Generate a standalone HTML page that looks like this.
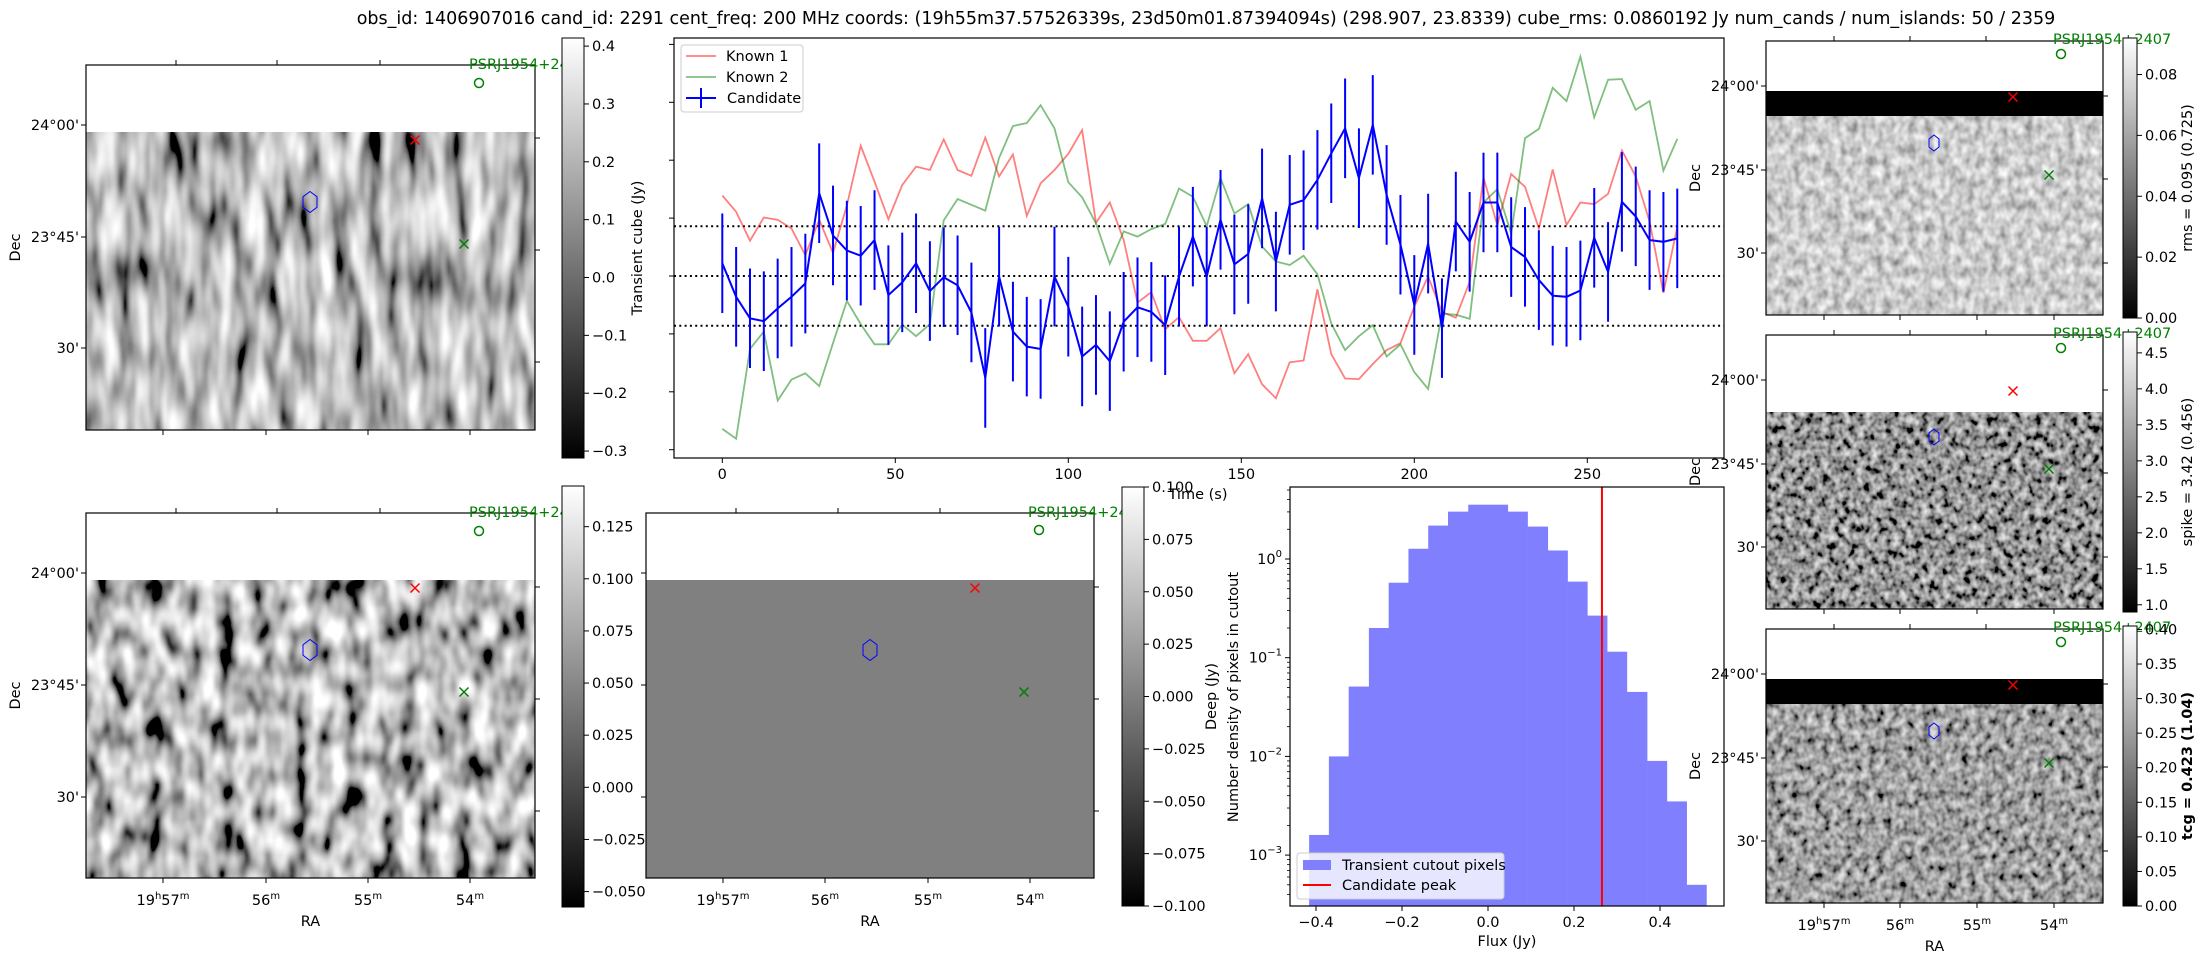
<!DOCTYPE html>
<html><head><meta charset="utf-8"><style>
html,body{margin:0;padding:0;background:#fff;}
svg{display:block;font-family:"DejaVu Sans","Liberation Sans",sans-serif;}
</style></head><body>
<svg id="fig" width="2207" height="959" viewBox="0 0 2207 959" xmlns="http://www.w3.org/2000/svg">
<defs>
 <linearGradient id="gcb" x1="0" y1="1" x2="0" y2="0"><stop offset="0" stop-color="#000"/><stop offset="1" stop-color="#fff"/></linearGradient>
 <filter id="fTL" x="0" y="0" width="1" height="1"><feTurbulence type="fractalNoise" baseFrequency="0.06 0.016" numOctaves="2" seed="3"/><feColorMatrix type="matrix" values="1.8 0 0 0 -0.4  1.8 0 0 0 -0.4  1.8 0 0 0 -0.4  0 0 0 0 1"/></filter>
 <filter id="fBL" x="0" y="0" width="1" height="1"><feTurbulence type="fractalNoise" baseFrequency="0.055 0.028" numOctaves="2" seed="11"/><feColorMatrix type="matrix" values="2.0 0 0 0 -0.5  2.0 0 0 0 -0.5  2.0 0 0 0 -0.5  0 0 0 0 1"/></filter>
 <filter id="fR1" x="0" y="0" width="1" height="1"><feTurbulence type="fractalNoise" baseFrequency="0.12 0.09" numOctaves="2" seed="5"/><feColorMatrix type="matrix" values="1.0 0 0 0 0.1  1.0 0 0 0 0.1  1.0 0 0 0 0.1  0 0 0 0 1"/></filter>
 <filter id="fR2" x="0" y="0" width="1" height="1"><feTurbulence type="fractalNoise" baseFrequency="0.14 0.12" numOctaves="2" seed="7"/><feColorMatrix type="matrix" values="1.4 0 0 0 -0.4  1.4 0 0 0 -0.4  1.4 0 0 0 -0.4  0 0 0 0 1"/></filter>
 <filter id="fR3" x="0" y="0" width="1" height="1"><feTurbulence type="fractalNoise" baseFrequency="0.13 0.11" numOctaves="2" seed="9"/><feColorMatrix type="matrix" values="1.2 0 0 0 -0.25  1.2 0 0 0 -0.25  1.2 0 0 0 -0.25  0 0 0 0 1"/></filter>
</defs>

<text x="1206" y="24" font-size="17.5" text-anchor="middle">obs_id: 1406907016 cand_id: 2291 cent_freq: 200 MHz coords: (19h55m37.57526339s, 23d50m01.87394094s) (298.907, 23.8339) cube_rms: 0.0860192 Jy num_cands / num_islands: 50 / 2359</text>

<g id="panels"></g>
<g id="lc"></g>
<g id="hist"></g>
</svg>
<script>
// ===== Light curve data =====
const times = [0,4,8,12,16,20,24,28,32,36,40,44,48,52,56,60,64,68,72,76,80,84,88,92,96,100,104,108,112,116,120,124,128,132,136,140,144,148,152,156,160,164,168,172,176,180,184,188,192,196,200,204,208,212,216,220,224,228,232,236,240,244,248,252,256,260,264,268,272,276];
const candidate = [0.022,-0.036,-0.073,-0.078,-0.056,-0.036,-0.013,0.143,0.070,0.044,0.035,0.062,-0.033,-0.011,0.022,-0.026,-0.002,-0.016,-0.063,-0.176,-0.001,-0.096,-0.122,-0.126,-0.001,-0.053,-0.139,-0.119,-0.147,-0.079,-0.054,-0.062,-0.085,-0.001,0.068,-0.001,0.097,0.020,0.038,0.134,0.025,0.123,0.131,0.166,0.212,0.255,0.169,0.261,0.140,0.054,-0.050,0.056,-0.090,0.094,0.059,0.127,0.127,0.050,0.033,-0.007,-0.034,-0.036,-0.025,0.066,0.007,0.128,0.103,0.062,0.059,0.065];
const candErr = [0.086,0.086,0.086,0.086,0.086,0.086,0.086,0.086,0.086,0.086,0.086,0.086,0.086,0.086,0.086,0.086,0.086,0.086,0.086,0.086,0.086,0.086,0.086,0.086,0.086,0.086,0.086,0.086,0.086,0.086,0.086,0.086,0.086,0.086,0.086,0.086,0.086,0.086,0.086,0.086,0.086,0.086,0.086,0.086,0.086,0.086,0.086,0.086,0.086,0.086,0.086,0.086,0.086,0.086,0.086,0.086,0.086,0.086,0.086,0.086,0.086,0.086,0.086,0.086,0.086,0.086,0.086,0.086,0.086,0.086];
const known1 = [0.139,0.111,0.061,0.101,0.097,0.082,0.036,0.097,0.040,0.122,0.225,0.163,0.098,0.157,0.189,0.183,0.236,0.183,0.173,0.239,0.172,0.210,0.104,0.160,0.183,0.211,0.252,0.092,0.127,0.062,-0.046,-0.028,-0.092,-0.071,-0.112,-0.112,-0.090,-0.168,-0.135,-0.187,-0.211,-0.149,-0.146,-0.023,-0.135,-0.177,-0.178,-0.152,-0.128,-0.116,-0.053,-0.001,-0.062,-0.072,-0.010,0.170,0.088,0.176,0.154,0.082,0.184,0.088,0.127,0.124,0.142,0.217,0.172,0.094,-0.029,0.085];
const known2 = [-0.264,-0.281,-0.126,-0.096,-0.215,-0.179,-0.168,-0.190,-0.116,-0.043,-0.083,-0.118,-0.118,-0.084,-0.104,-0.083,0.096,0.133,0.123,0.113,0.204,0.259,0.264,0.295,0.255,0.162,0.136,0.091,0.021,0.077,0.068,0.081,0.090,0.151,0.137,0.086,0.169,0.108,0.124,0.051,0.025,0.019,0.035,0.003,-0.082,-0.128,-0.104,-0.085,-0.139,-0.118,-0.166,-0.195,-0.065,-0.067,-0.074,0.127,0.150,0.073,0.238,0.254,0.325,0.302,0.379,0.274,0.339,0.340,0.287,0.302,0.182,0.237];
const cubeRms = 0.0860192;
const lcXTicks = [0,50,100,150,200,250];
const lcYTicks = [-0.3,-0.2,-0.1,0.0,0.1,0.2,0.3,0.4];

// ===== Histogram data =====
const binEdges = [-0.416,-0.370,-0.324,-0.277,-0.231,-0.185,-0.139,-0.093,-0.046,0.000,0.046,0.092,0.139,0.185,0.231,0.277,0.323,0.370,0.416,0.462,0.508];
const densities = [0.0016,0.0100,0.051,0.20,0.575,1.27,2.18,3.02,3.55,3.55,3.02,2.13,1.22,0.59,0.267,0.115,0.045,0.009,0.0035,0.0005];
const candidatePeak = 0.265;
const histXTicks = [-0.4,-0.2,0.0,0.2,0.4];
const histYExps = [0,-1,-2,-3];

const NS = "http://www.w3.org/2000/svg";
function mk(tag, attrs, parent, txt){
  const e = document.createElementNS(NS, tag);
  for (const k in attrs) e.setAttribute(k, attrs[k]);
  if (txt !== undefined) e.textContent = txt;
  parent.appendChild(e);
  return e;
}
const panels = document.getElementById('panels');

function imgPanel(o){
  const g = mk('g', {}, panels);
  
  
  const w = o.r - o.l, h = o.b - o.t;
  if (o.fill) {
    const r = mk('rect', {x:o.l, y:o.dataTop, width:w, height:o.b-o.dataTop, fill:o.fill}, g);
    
    
  } else {
    const r = mk('rect', {x:o.l, y:o.dataTop, width:w, height:o.b-o.dataTop, fill:'#808080', filter:'url(#'+o.filter+')'}, g);
    
    
  }
  if (o.band) {
    const r = mk('rect', {x:o.l, y:o.band[0], width:w, height:o.band[1]-o.band[0], fill:'#000'}, g);
    
    
  }
  const fr = mk('rect', {x:o.l, y:o.t, width:w, height:h, fill:'none', stroke:'#000', 'stroke-width':1.2}, g);
  
  
  o.decL.forEach((y,i)=>{
    mk('line',{x1:o.l-5,y1:y,x2:o.l,y2:y,stroke:'#000'},g);
    if (o.decLabels) {
      const t = mk('text',{x:o.l-7,y:y+5,'font-size':14.5,'text-anchor':'end'},g,o.decLabels[i]);
      
      
    }
  });
  o.decR.forEach(y=>mk('line',{x1:o.r,y1:y,x2:o.r+5,y2:y,stroke:'#000'},g));
  o.raTop.forEach(x=>mk('line',{x1:x,y1:o.t-5,x2:x,y2:o.t,stroke:'#000'},g));
  o.raBot.forEach((x,i)=>{
    mk('line',{x1:x,y1:o.b,x2:x,y2:o.b+5,stroke:'#000'},g);
    if (o.raLabels){
      const lab = ['19','56','55','54'][i];
      const t = mk('text',{x:x,y:o.b+27,'font-size':14.5,'text-anchor':'middle'},g);
      
      
      if (i===0){ t.textContent='19'; mk('tspan',{dy:-6,'font-size':10},t,'h'); mk('tspan',{dy:6},t,'57'); mk('tspan',{dy:-6,'font-size':10},t,'m'); }
      else { t.textContent=lab; mk('tspan',{dy:-6,'font-size':10},t,'m'); }
    }
  });
  if (o.raLabels){
    const t = mk('text',{x:(o.l+o.r)/2,y:o.b+48,'font-size':14.5,'text-anchor':'middle'},g,'RA');
    
    
  }
  if (o.decTitle){
    const cy = (o.t+o.b)/2;
    const t = mk('text',{x:o.decTitleX,y:cy,'font-size':14.5,'text-anchor':'middle',transform:'rotate(-90 '+o.decTitleX+' '+cy+')'},g,'Dec');
    
    
  }
  const s = 4.5;
  const rx = o.redX, gx = o.greenX;
  const m1 = mk('path',{d:`M${rx[0]-s},${rx[1]-s}L${rx[0]+s},${rx[1]+s}M${rx[0]-s},${rx[1]+s}L${rx[0]+s},${rx[1]-s}`,stroke:'#ff0000','stroke-width':1.5},g);
  
  
  const m2 = mk('path',{d:`M${gx[0]-s},${gx[1]-s}L${gx[0]+s},${gx[1]+s}M${gx[0]-s},${gx[1]+s}L${gx[0]+s},${gx[1]-s}`,stroke:'#008000','stroke-width':1.5},g);
  
  
  const c = mk('circle',{cx:o.circ[0],cy:o.circ[1],r:4.5,fill:'none',stroke:'#008000','stroke-width':1.5},g);
  
  
  const lt = mk('text',{x:o.labX,y:o.labY,'font-size':14.5,fill:'#008000'},g,o.psr);
  
  
  const hx=o.hex[0], hy=o.hex[1], hw=o.hex[2]/2, hh=o.hex[3]/2;
  const hp = mk('polygon',{points:`${hx},${hy-hh} ${hx+hw},${hy-hh/2} ${hx+hw},${hy+hh/2} ${hx},${hy+hh} ${hx-hw},${hy+hh/2} ${hx-hw},${hy-hh/2}`,fill:'none',stroke:'#0000ff','stroke-width':1},g);
  
  
}

function colorbar(o){
  const g = mk('g', {}, panels);
  
  
  mk('rect',{x:o.l,y:o.t,width:o.r-o.l,height:o.b-o.t,fill:'url(#gcb)',stroke:'#000','stroke-width':1},g);
  o.ticks.forEach(tk=>{
    const y = o.b - (tk[0]-o.vmin)/(o.vmax-o.vmin)*(o.b-o.t);
    mk('line',{x1:o.r,y1:y,x2:o.r+5,y2:y,stroke:'#000'},g);
    const t = mk('text',{x:o.r+8,y:y+5,'font-size':14.5},g,tk[1]);
    
    
  });
  if (o.label){
    const cy=(o.t+o.b)/2;
    const t = mk('text',{x:o.labelX,y:cy,'font-size':14.5,'text-anchor':'middle','font-weight':o.bold?'bold':'normal',transform:'rotate(-90 '+o.labelX+' '+cy+')'},g,o.label);
    
    
  }
}

const decLabs = ["24°00'","23°45'","30'"];
imgPanel({name:'transient-image-panel',l:86,r:535,t:65,b:430,dataTop:132,filter:'fTL',
  decL:[125,237,348],decLabels:decLabs,decR:[138,250,362],raTop:[176,277,380],raBot:[163,266,368,470],
  decTitle:true,decTitleX:20,redX:[415,140],greenX:[464,244],circ:[479,83],labX:469,labY:69,psr:'PSRJ1954+24',hex:[310,202,14,21]});
colorbar({name:'transient-colorbar',l:562,r:584,t:38,b:458,vmin:-0.312,vmax:0.414,
  ticks:[[0.4,'0.4'],[0.3,'0.3'],[0.2,'0.2'],[0.1,'0.1'],[0,'0.0'],[-0.1,'−0.1'],[-0.2,'−0.2'],[-0.3,'−0.3']],
  label:'Transient cube (Jy)',labelX:642});
imgPanel({name:'image-panel-bottom-left',l:86,r:535,t:513,b:878,dataTop:580,filter:'fBL',
  decL:[573,685,797],decLabels:decLabs,decR:[587,699,811],raTop:[176,277,380],raBot:[163,266,368,470],raLabels:true,
  decTitle:true,decTitleX:20,redX:[415,588],greenX:[464,692],circ:[479,531],labX:469,labY:517,psr:'PSRJ1954+24',hex:[310,650,14,21]});
colorbar({name:'bottom-left-colorbar',l:562,r:584,t:486,b:907,vmin:-0.0574,vmax:0.1445,
  ticks:[[0.125,'0.125'],[0.1,'0.100'],[0.075,'0.075'],[0.05,'0.050'],[0.025,'0.025'],[0,'0.000'],[-0.025,'−0.025'],[-0.05,'−0.050']]});
imgPanel({name:'deep-image-panel',l:646,r:1094,t:513,b:878,dataTop:580,fill:'#808080',
  decL:[573,685,797],decR:[587,699,811],raTop:[736,838,940],raBot:[723,825,928,1030],raLabels:true,
  redX:[975,588],greenX:[1024,692],circ:[1039,530],labX:1028,labY:517,psr:'PSRJ1954+24',hex:[870,650,14,21]});
colorbar({name:'deep-colorbar',l:1122,r:1144,t:487,b:906,vmin:-0.1,vmax:0.1,
  ticks:[[0.1,'0.100'],[0.075,'0.075'],[0.05,'0.050'],[0.025,'0.025'],[0,'0.000'],[-0.025,'−0.025'],[-0.05,'−0.050'],[-0.075,'−0.075'],[-0.1,'−0.100']],
  label:'Deep (Jy)',labelX:1216});
const rDec = [45,129,212], rDecR=[55,138,222];
[[41,'rms-image-panel','fR1',[91,116],91,'rms-colorbar',38,318,0,0.092,[[0.08,'0.08'],[0.06,'0.06'],[0.04,'0.04'],[0.02,'0.02'],[0,'0.00']],'rms = 0.095 (0.725)',false,false],
 [335,'spike-image-panel','fR2',null,412,'spike-colorbar',332,612,0.9,4.79,[[4.5,'4.5'],[4.0,'4.0'],[3.5,'3.5'],[3.0,'3.0'],[2.5,'2.5'],[2.0,'2.0'],[1.5,'1.5'],[1.0,'1.0']],'spike = 3.42 (0.456)',false,false],
 [629,'tcg-image-panel','fR3',[679,704],704,'tcg-colorbar',626,906,0,0.405,[[0.4,'0.40'],[0.35,'0.35'],[0.3,'0.30'],[0.25,'0.25'],[0.2,'0.20'],[0.15,'0.15'],[0.1,'0.10'],[0.05,'0.05'],[0,'0.00']],'tcg = 0.423 (1.04)',true,true]
].forEach(p=>{
  const t=p[0];
  imgPanel({name:p[1],l:1766,r:2103,t:t,b:t+274,dataTop:p[4],filter:p[2],band:p[3],
    decL:rDec.map(d=>t+d),decLabels:decLabs,decR:rDecR.map(d=>t+d),raTop:[1834,1910,1986],raBot:[1824,1900,1977,2054],raLabels:p[13],
    decTitle:true,decTitleX:1700,redX:[2013,t+56],greenX:[2049,t+134],circ:[2061,t+13],labX:2053,labY:t+3,psr:'PSRJ1954+2407',hex:[1934,t+102,10,16]});
  colorbar({name:p[5],l:2123,r:2137,t:p[6],b:p[7],vmin:p[8],vmax:p[9],ticks:p[10],label:p[11],labelX:2192,bold:p[12]});
});

// ---------- Light curve ----------
const lc = document.getElementById('lc');
const LC = {l:674, r:1724, t:38, b:458};
function xLC(t){ return 722.3 + t*3.46; }
function yLC(v){ return 276 - v*579; }
const lcFrame = mk('rect',{x:LC.l,y:LC.t,width:LC.r-LC.l,height:LC.b-LC.t,fill:'none',stroke:'#000','stroke-width':1.2},lc);


lcXTicks.forEach(v=>{
  const x=xLC(v);
  mk('line',{x1:x,y1:LC.b,x2:x,y2:LC.b+5,stroke:'#000'},lc);
  const t=mk('text',{x:x,y:LC.b+21,'font-size':14.5,'text-anchor':'middle'},lc,String(v));
  
  
});
lcYTicks.forEach(v=>{
  const y=yLC(v);
  mk('line',{x1:LC.l-5,y1:y,x2:LC.l,y2:y,stroke:'#000'},lc);
});
const tl = mk('text',{x:1198,y:499,'font-size':14.5,'text-anchor':'middle'},lc,'Time (s)');


[-cubeRms,0,cubeRms].forEach(v=>{
  const ln=mk('line',{x1:LC.l,x2:LC.r,y1:yLC(v),y2:yLC(v),stroke:'#000','stroke-width':2,'stroke-dasharray':'2,3.3'},lc);
  
  
});
function seriesPath(vals){ return vals.map((v,i)=>(i?'L':'M')+xLC(times[i]).toFixed(1)+','+yLC(v).toFixed(1)).join(''); }
const k1 = mk('path',{d:seriesPath(known1),fill:'none',stroke:'#ff0000','stroke-opacity':0.5,'stroke-width':1.8},lc);


const k2 = mk('path',{d:seriesPath(known2),fill:'none',stroke:'#008000','stroke-opacity':0.5,'stroke-width':1.8},lc);


const cl = mk('path',{d:seriesPath(candidate),fill:'none',stroke:'#0000ff','stroke-width':2},lc);


candidate.forEach((v,i)=>{
  const x=xLC(times[i]);
  const eb=mk('line',{x1:x,x2:x,y1:yLC(v+candErr[i]),y2:yLC(v-candErr[i]),stroke:'#0000ff','stroke-width':2},lc);
  
  
});
const lg = mk('g',{},lc);


mk('rect',{x:681,y:45,width:122,height:67,rx:3,fill:'#fff','fill-opacity':0.8,stroke:'#ccc'},lg);
mk('line',{x1:686,x2:716,y1:56,y2:56,stroke:'#ff0000','stroke-opacity':0.5,'stroke-width':1.8},lg);
mk('text',{x:726,y:61,'font-size':14.5},lg,'Known 1');
mk('line',{x1:686,x2:716,y1:77,y2:77,stroke:'#008000','stroke-opacity':0.5,'stroke-width':1.8},lg);
mk('text',{x:726,y:82,'font-size':14.5},lg,'Known 2');
mk('line',{x1:686,x2:716,y1:98,y2:98,stroke:'#0000ff','stroke-width':2},lg);
mk('line',{x1:701,x2:701,y1:88,y2:108,stroke:'#0000ff','stroke-width':2},lg);
mk('text',{x:727,y:103,'font-size':14.5},lg,'Candidate');

// ---------- Histogram ----------
const hist = document.getElementById('hist');
const H = {l:1290, r:1724, t:487, b:906};
function xH(f){ return 1488 + f*430; }
function yH(d){ return Math.min(H.b, 559 - Math.log10(d)*98.7); }
densities.forEach((d,i)=>{
  const x0=xH(binEdges[i]), x1=xH(binEdges[i+1]), y=yH(d);
  const r=mk('rect',{x:x0,y:y,width:x1-x0+0.3,height:H.b-y,fill:'#8080ff'},hist);
  
  
});
const pk = mk('line',{x1:xH(candidatePeak),x2:xH(candidatePeak),y1:H.t,y2:H.b,stroke:'#ff0000','stroke-width':2},hist);


const hf = mk('rect',{x:H.l,y:H.t,width:H.r-H.l,height:H.b-H.t,fill:'none',stroke:'#000','stroke-width':1.2},hist);


histXTicks.forEach(v=>{
  const x=xH(v);
  mk('line',{x1:x,y1:H.b,x2:x,y2:H.b+5,stroke:'#000'},hist);
  const t=mk('text',{x:x,y:H.b+21,'font-size':14.5,'text-anchor':'middle'},hist,(v<0?'−':'')+Math.abs(v).toFixed(1));
  
  
});
histYExps.forEach(e=>{
  const y=559 - e*98.7;
  mk('line',{x1:H.l-5,y1:y,x2:H.l,y2:y,stroke:'#000'},hist);
  const t=mk('text',{x:H.l-8,y:y+5,'font-size':14.5,'text-anchor':'end'},hist,'10');
  
  
  mk('tspan',{dy:-7,'font-size':10},t,e===0?'0':'−'+(-e));
});
for (let e=-4;e<=0;e++){
  for (let m=2;m<=9;m++){
    const y=559-(e+Math.log10(m))*98.7;
    if (y>H.t && y<H.b) mk('line',{x1:H.l-3,y1:y,x2:H.l,y2:y,stroke:'#000','stroke-width':0.8},hist);
  }
}
const hx = mk('text',{x:1507,y:946,'font-size':14.5,'text-anchor':'middle'},hist,'Flux (Jy)');


const hy = mk('text',{x:1238,y:697,'font-size':14.5,'text-anchor':'middle',transform:'rotate(-90 1238 697)'},hist,'Number density of pixels in cutout');


const hl = mk('g',{},hist);


mk('rect',{x:1297,y:853,width:207,height:46,rx:3,fill:'#fff','fill-opacity':0.8,stroke:'#ccc'},hl);
mk('rect',{x:1303,y:860,width:28,height:10,fill:'#8080ff'},hl);
mk('text',{x:1342,y:870,'font-size':14.5},hl,'Transient cutout pixels');
mk('line',{x1:1303,x2:1331,y1:885,y2:885,stroke:'#ff0000','stroke-width':2},hl);
mk('text',{x:1342,y:890,'font-size':14.5},hl,'Candidate peak');
</script>
</body></html>
